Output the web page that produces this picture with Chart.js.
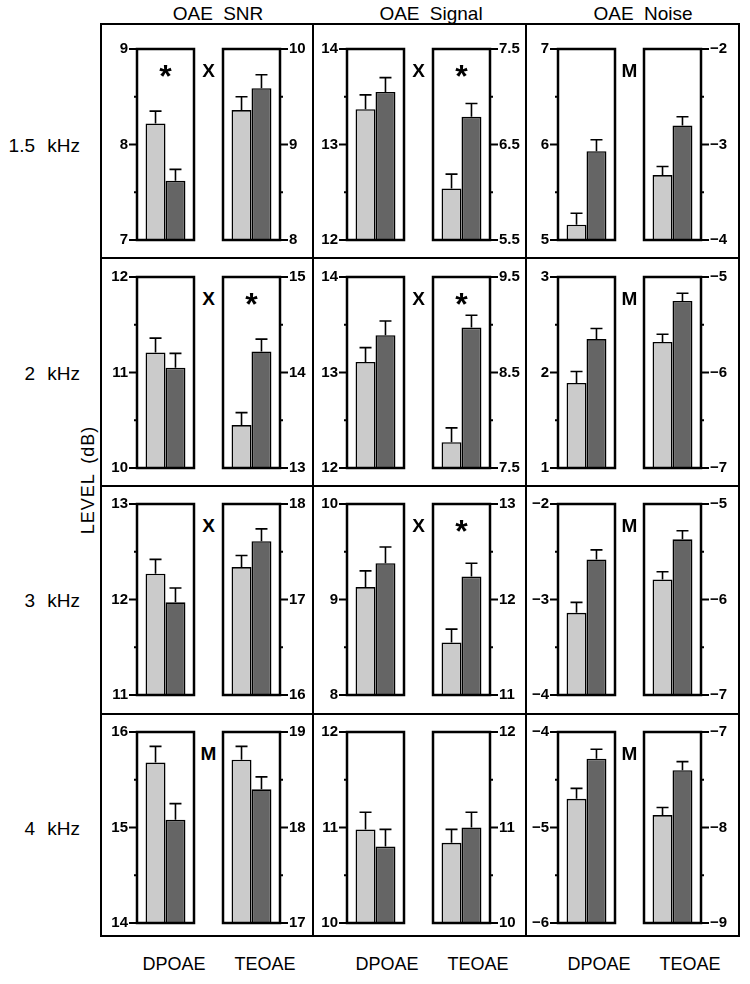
<!DOCTYPE html>
<html>
<head>
<meta charset="utf-8">
<script src="https://cdn.jsdelivr.net/npm/chart.js@4.4.1/dist/chart.umd.min.js"></script>
<style>
  body { margin: 0; background: #fff; }
  #page { position: relative; width: 750px; height: 984px; font-family: "Liberation Sans", Arial, sans-serif; color: #000; overflow: hidden; }
  .txt { position: absolute; white-space: nowrap; line-height: 1; transform: translate(-50%, -50%); }
  .line { position: absolute; background: #000; }
  canvas { position: absolute; }
</style>
</head>
<body>
<div id="page"></div>
<script>
const measures = ["OAE SNR", "OAE Signal", "OAE Noise"];
const freqs = ["1.5 kHz", "2 kHz", "3 kHz", "4 kHz"];
const methods = ["DPOAE", "TEOAE"];

// one row per frequency: [DPOAE light, DPOAE dark, TEOAE light, TEOAE dark]
const snrMeans = [
  [8.22, 7.62, 9.36, 9.59],
  [11.21, 11.05, 13.45, 14.22],
  [12.27, 11.97, 17.34, 17.61],
  [15.68, 15.08, 18.71, 18.40],
];
const snrErrors = [
  [0.13, 0.12, 0.14, 0.14],
  [0.15, 0.15, 0.13, 0.13],
  [0.15, 0.15, 0.12, 0.13],
  [0.17, 0.17, 0.14, 0.13],
];
const signalMeans = [
  [13.37, 13.55, 6.04, 6.79],
  [13.11, 13.39, 7.77, 8.97],
  [9.13, 9.38, 11.55, 12.24],
  [10.98, 10.80, 10.84, 11.00],
];
const signalErrors = [
  [0.15, 0.15, 0.15, 0.14],
  [0.15, 0.15, 0.15, 0.13],
  [0.17, 0.17, 0.14, 0.14],
  [0.18, 0.18, 0.14, 0.16],
];
const noiseMeans = [
  [5.16, 5.93, -3.32, -2.80],
  [1.89, 2.35, -5.68, -5.25],
  [-3.14, -2.58, -5.79, -5.37],
  [-4.70, -4.28, -7.87, -7.40],
];
const noiseErrors = [
  [0.12, 0.12, 0.09, 0.09],
  [0.12, 0.11, 0.08, 0.08],
  [0.11, 0.10, 0.08, 0.09],
  [0.11, 0.10, 0.08, 0.09],
];

// axis ranges [min, max] per frequency
const snrDpRange = [[7, 9], [10, 12], [11, 13], [14, 16]];
const snrTeRange = [[8, 10], [13, 15], [16, 18], [17, 19]];
const signalDpRange = [[12, 14], [12, 14], [8, 10], [10, 12]];
const signalTeRange = [[5.5, 7.5], [7.5, 9.5], [11, 13], [10, 12]];
const noiseDpRange = [[5, 7], [1, 3], [-4, -2], [-6, -4]];
const noiseTeRange = [[-4, -2], [-7, -5], [-7, -5], [-9, -7]];

// significance marks: [inside DPOAE, between, inside TEOAE]
const snrMarks = [["*", "X", ""], ["", "X", "*"], ["", "X", ""], ["", "M", ""]];
const signalMarks = [["", "X", "*"], ["", "X", "*"], ["", "X", "*"], ["", "", ""]];
const noiseMarks = [["", "M", ""], ["", "M", ""], ["", "M", ""], ["", "M", ""]];

const lightColor = "#cbcbcb";
const darkColor = "#656565";

const allMeans = [snrMeans, signalMeans, noiseMeans];
const allErrors = [snrErrors, signalErrors, noiseErrors];
const allDpRanges = [snrDpRange, signalDpRange, noiseDpRange];
const allTeRanges = [snrTeRange, signalTeRange, noiseTeRange];
const allMarks = [snrMarks, signalMarks, noiseMarks];

// layout
const plotTops = [43, 271, 498, 726];
const plotH = 203;
const plotW = 57;
const dpLefts = [137, 347, 558];
const teShift = 86;
const AX = 40;
const PAD = 12;

const page = document.getElementById("page");

function addText(str, x, y, size, extra) {
  const d = document.createElement("div");
  d.className = "txt";
  d.textContent = str;
  d.style.left = x + "px";
  d.style.top = y + "px";
  d.style.fontSize = size + "px";
  if (extra) Object.assign(d.style, extra);
  page.appendChild(d);
  return d;
}

function addLine(x, y, w, h) {
  const d = document.createElement("div");
  d.className = "line";
  d.style.left = x + "px";
  d.style.top = y + "px";
  d.style.width = w + "px";
  d.style.height = h + "px";
  page.appendChild(d);
}

// frame
const boxL = 101, boxR = 739, boxT = 24, boxB = 936, lw = 2.5;
const colSeps = [313, 526];
const rowSeps = [258, 486, 714];
addLine(boxL - lw / 2, boxT - lw / 2, boxR - boxL + lw, lw);
addLine(boxL - lw / 2, boxB - lw / 2, boxR - boxL + lw, lw);
addLine(boxL - lw / 2, boxT - lw / 2, lw, boxB - boxT + lw);
addLine(boxR - lw / 2, boxT - lw / 2, lw, boxB - boxT + lw);
colSeps.forEach((x) => addLine(x - lw / 2, boxT, lw, boxB - boxT));
rowSeps.forEach((y) => addLine(boxL, y - lw / 2, boxR - boxL, lw));

// titles and labels
const titleX = [218, 431, 643];
measures.forEach((m, i) => addText(m, titleX[i], 13, 19, { wordSpacing: "5px" }));
freqs.forEach((f, r) => addText(f, 80, plotTops[r] + plotH / 2, 19, { transform: "translate(-100%, -50%)", wordSpacing: "7px" }));
addText("LEVEL (dB)", 88, 480, 18, { transform: "translate(-50%, -50%) rotate(-90deg)", wordSpacing: "4px", letterSpacing: "1px" });
const methodX = [[174, 265], [387, 478], [599, 690]];
methodX.forEach((pair) => {
  addText(methods[0], pair[0], 964, 18);
  addText(methods[1], pair[1], 964, 18);
});

function fmt(v) {
  const r = Math.round(v * 100) / 100;
  return (r < 0 ? "\u2212" : "") + Math.abs(r);
}

const boxPlugin = {
  id: "boxPlugin",
  afterDatasetsDraw(chart) {
    const ctx = chart.ctx;
    const area = chart.chartArea;
    const y = chart.scales.y;
    const cfg = chart.options.plugins.boxPlugin;
    // error bars
    ctx.save();
    ctx.strokeStyle = "#000";
    ctx.lineWidth = 1.6;
    chart.data.datasets.forEach((ds, i) => {
      const bar = chart.getDatasetMeta(i).data[0];
      const top = y.getPixelForValue(ds.data[0] + ds.errors[0]);
      ctx.beginPath();
      ctx.moveTo(bar.x, bar.y);
      ctx.lineTo(bar.x, top);
      ctx.moveTo(bar.x - 6, top);
      ctx.lineTo(bar.x + 6, top);
      ctx.stroke();
    });
    // frame
    ctx.lineWidth = 2.5;
    ctx.strokeRect(area.left, area.top, area.right - area.left, area.bottom - area.top);
    // ticks
    const step = (y.max - y.min) / 4;
    for (let k = 0; k <= 4; k++) {
      const py = y.getPixelForValue(y.min + k * step);
      const len = k % 2 === 0 ? 8 : 3;
      ctx.lineWidth = 2;
      ctx.beginPath();
      if (cfg.side === "left") {
        ctx.moveTo(area.left - len, py);
        ctx.lineTo(area.left, py);
      } else {
        ctx.moveTo(area.right, py);
        ctx.lineTo(area.right + len, py);
      }
      ctx.stroke();
    }
    ctx.restore();
  },
};

function makeChart(left, top, side, range, light, dark, errLight, errDark) {
  const canvas = document.createElement("canvas");
  const w = AX + plotW + 4;
  const h = plotH + 2 * PAD;
  canvas.width = w;
  canvas.height = h;
  canvas.style.width = w + "px";
  canvas.style.height = h + "px";
  canvas.style.left = (side === "left" ? left - AX : left - 4) + "px";
  canvas.style.top = top - PAD + "px";
  page.appendChild(canvas);

  new Chart(canvas.getContext("2d"), {
    type: "bar",
    data: {
      labels: [""],
      datasets: [
        { data: [light], errors: [errLight], backgroundColor: lightColor },
        { data: [dark], errors: [errDark], backgroundColor: darkColor },
      ],
    },
    options: {
      responsive: false,
      animation: false,
      devicePixelRatio: 1,
      layout: {
        padding: side === "left"
          ? { left: 0, right: 4, top: PAD, bottom: PAD }
          : { left: 4, right: 0, top: PAD, bottom: PAD },
      },
      datasets: {
        bar: {
          base: range[0],
          borderColor: "#000",
          borderWidth: 1.6,
          categoryPercentage: 0.7,
          barPercentage: 1.0,
        },
      },
      scales: {
        x: { display: false },
        y: {
          position: side,
          min: range[0],
          max: range[1],
          afterFit: (s) => { s.width = AX; },
          grid: { display: false, drawTicks: false },
          border: { display: false },
          ticks: {
            stepSize: (range[1] - range[0]) / 4,
            autoSkip: false,
            padding: 9,
            color: "#000",
            font: { family: "'Liberation Sans', Arial, sans-serif", size: 15, weight: "bold" },
            callback: (v, i) => (i % 2 === 0 ? fmt(v) : ""),
          },
        },
      },
      plugins: {
        legend: { display: false },
        tooltip: { enabled: false },
        boxPlugin: { side: side },
      },
    },
    plugins: [boxPlugin],
  });
}

for (let c = 0; c < 3; c++) {
  for (let r = 0; r < 4; r++) {
    const m = allMeans[c][r];
    const e = allErrors[c][r];
    const dpL = dpLefts[c];
    const teL = dpL + teShift;
    const top = plotTops[r];
    makeChart(dpL, top, "left", allDpRanges[c][r], m[0], m[1], e[0], e[1]);
    makeChart(teL, top, "right", allTeRanges[c][r], m[2], m[3], e[2], e[3]);

    const marks = allMarks[c][r];
    const my = top + 27;
    const xs = [dpL + plotW / 2, (dpL + plotW + teL) / 2, teL + plotW / 2];
    marks.forEach((s, k) => {
      if (!s) return;
      if (s === "*") {
        addText(s, xs[k], my + 6, 32, { fontWeight: "bold" });
      } else {
        addText(s, xs[k], my, 19, { fontWeight: "bold" });
      }
    });
  }
}
</script>
</body>
</html>
